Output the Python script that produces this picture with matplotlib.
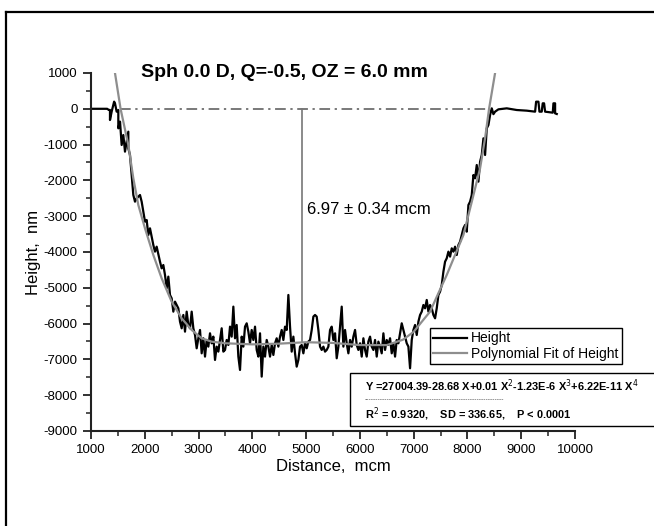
import matplotlib
matplotlib.use("Agg")
import matplotlib.pyplot as plt
from matplotlib.lines import Line2D
from matplotlib.patches import Rectangle

plt.rcParams['font.family'] = ['Liberation Sans', 'DejaVu Sans']
plt.rcParams['axes.unicode_minus'] = False

# measured profile: distance (mcm) vs height (nm)
dist = [1000, 1150, 1300, 1330, 1353, 1353, 1384, 1415, 1430, 1446, 1477, 1508, 1508, 1540,
        1570, 1601, 1632, 1663, 1694, 1694, 1725, 1756, 1787, 1818, 1849, 1911, 1942, 2004,
        2035, 2066, 2097, 2159, 2190, 2221, 2283, 2314, 2345, 2376, 2407, 2438, 2469, 2500,
        2531, 2562, 2624, 2655, 2686, 2717, 2748, 2779, 2810, 2841, 2872, 2903, 2934, 2965,
        2996,
        3027, 3058, 3089, 3120, 3151, 3182, 3213, 3244, 3275, 3306, 3337, 3368, 3399, 3430,
        3461, 3492, 3523, 3554, 3585, 3616, 3647, 3678, 3709, 3740, 3771, 3802, 3833, 3864,
        3895, 3926, 3957, 3988, 4019, 4050, 4081, 4112, 4143, 4174, 4205, 4236, 4267, 4298,
        4329, 4360, 4391, 4422, 4453, 4484, 4515, 4546, 4577, 4608, 4639, 4670, 4701, 4732,
        4763, 4794, 4825, 4856, 4887, 4918, 4949, 4980, 5011, 5042, 5073, 5104, 5135, 5166,
        5197, 5228, 5259, 5290, 5321, 5352, 5383, 5414, 5445, 5476, 5507, 5538, 5569, 5600,
        5631, 5662, 5693, 5724, 5755, 5786, 5817, 5848, 5879, 5910, 5941, 5972, 6003, 6034,
        6065, 6096, 6127, 6158, 6189, 6220, 6251, 6282, 6313, 6344, 6375, 6406, 6437, 6468,
        6499, 6530, 6561, 6592, 6623, 6654, 6685, 6716, 6747, 6778, 6809, 6840, 6871, 6902,
        6933, 6964, 6995,
        7026, 7057, 7088, 7119, 7150, 7181, 7212, 7243, 7274, 7305, 7336, 7367, 7398, 7429,
        7460, 7491, 7522, 7553, 7584, 7615, 7646, 7677, 7708, 7739, 7770, 7801, 7832, 7863,
        7894, 7925, 7956, 7987, 8018, 8049, 8080, 8111, 8142, 8173, 8204, 8235, 8266, 8297,
        8328, 8359, 8390, 8421, 8452, 8483, 8514, 8576, 8731, 8917, 9103, 9258, 9277, 9320,
        9339, 9381, 9400, 9425, 9444, 9587, 9599, 9630, 9630, 9661]
height = [0, 0, 0, -30, -33, -313, -80, 106, 200, 153, -80, -33, -545, -359,
          -1011, -732, -1197, -918, -639, -1104, -1290, -1849, -2408, -2594, -2501, -2408, -2594, -3152,
          -3106, -3525, -3338, -3804, -3990, -3851, -4270, -4456, -4363, -4642, -5014, -4688, -5201, -5294,
          -5666, -5387, -5573, -5945, -6131, -5759, -6225, -5666, -6038, -6131, -5666, -6131, -6318, -6690,
          -6411,
          -6178, -6830, -6410, -6922, -6457, -6643, -6271, -6550, -6364, -7015, -6643, -6783, -6457, -6131,
          -6783, -6736, -6457, -6597, -6085, -6364, -5526, -6410, -6038, -6922, -7295, -6364, -6643, -6085,
          -5992, -6224, -6550, -6178, -6457, -6085, -6736, -6922, -6271, -7481, -6643, -6922, -6457, -6643,
          -6922, -6597, -6876, -6550, -6410, -6643, -6364, -6178, -6457, -6085, -6178, -5200, -6085, -6783,
          -6364, -6830, -7202, -7015, -6643, -6597, -6830, -6550, -6690, -6503, -6457, -6178, -5805, -5759,
          -5805, -6178, -6643, -6736, -6643, -6783, -6736, -6643, -6178, -6085, -6457, -6271, -6969, -6643,
          -6085, -5526, -6643, -6178, -6550, -6830, -6457, -6643, -6364, -6178, -6597, -6736, -6550, -6922,
          -6410, -6736, -6922, -6503, -6364, -6643, -6736, -6457, -6922, -6503, -6643, -6830, -6271, -6736,
          -6457, -6597, -6410, -6830, -6550, -6922, -6457, -6550, -6271, -5992, -6178, -6364, -6550, -6643,
          -7248, -6457, -6178,
          -6038, -6318, -5945, -5759, -5666, -5480, -5573, -5340, -5666, -5480, -5573, -5759, -5852, -5573,
          -5200, -5107, -4921, -4549, -4270, -4176, -3990, -4130, -3897, -3990, -3851, -4083, -3804, -3711,
          -3525, -3339, -3245, -3432, -2687, -2594, -2408, -1849, -1942, -1570, -2035, -1477, -1290, -825,
          -1290, -546, -452, -173, 13, -150, -80, -15, 13, -34, -52, -80, 199, 199,
          -80, -80, 153, 153, -80, -108, 153, 153, -127, -145]

# polynomial fit curve
fit_dist = [1446, 1550, 1694, 1787, 1880, 2004, 2159, 2314, 2500, 2686, 2872, 3058, 3244, 3500,
            4000, 4500, 5000, 5500, 6000, 6500, 6800, 7000, 7150, 7305, 7460, 7615, 7770, 7925,
            8080, 8235, 8330, 8402, 8514]
fit_height = [1000, 0, -1011, -1942, -2687, -3339, -4083, -4735, -5387, -5852, -6178, -6411, -6504, -6550,
              -6580, -6560, -6520, -6540, -6600, -6600, -6450, -6230, -5950, -5666, -5150, -4642, -4080, -3525,
              -2600, -1663, -800, 0, 1000]

zero_start, zero_end = 1540, 8400
depth_x = 4923
depth_bottom = -6520
depth_label = "6.97 \u00b1 0.34 mcm"

title = "Sph 0.0 D, Q=-0.5, OZ = 6.0 mm"
eq_line = "Y =27004.39-28.68 X+0.01 X$^{2}$-1.23E-6 X$^{3}$+6.22E-11 X$^{4}$"
stat_line = "R$^{2}$ = 0.9320,    SD = 336.65,    P < 0.0001"

fig = plt.figure(figsize=(6.54, 5.26), dpi=100)
ax = fig.add_axes([91/654, 1-431/526, 484/654, 358/526])

ax.plot([zero_start, zero_end], [0, 0], color='#555555', lw=1.1, ls=(0, (7, 3, 1.5, 3)))
ax.plot([depth_x, depth_x], [0, depth_bottom], color='#777777', lw=1.2)
ax.plot(dist, height, color='black', lw=1.6, label='Height')
ax.plot(fit_dist, fit_height, color='#8e8e8e', lw=1.6, label='Polynomial Fit of Height')

ax.set_xlim(1000, 10000)
ax.set_ylim(-9000, 1000)
ax.set_xticks(range(1000, 10001, 1000))
ax.set_xticks(range(1500, 10000, 1000), minor=True)
ax.set_yticks(range(-9000, 1001, 1000))
ax.set_yticks(range(-8500, 1000, 1000), minor=True)
for s in ['top', 'right']:
    ax.spines[s].set_visible(False)
for s in ['left', 'bottom']:
    ax.spines[s].set_linewidth(1.5)
    ax.spines[s].set_color('#222222')
ax.tick_params(which='major', length=6, width=1.3, labelsize=9.5, color='#222222')
ax.tick_params(which='minor', length=3.5, width=1.1, color='#222222')
ax.set_xlabel("Distance,  mcm", fontsize=12, labelpad=2)
ax.set_ylabel("Height,  nm", fontsize=12, labelpad=2)

ax.text(4600, 1000, title, fontsize=14, fontweight='bold', ha='center', va='center')
ax.text(depth_x + 100, -2820, depth_label, fontsize=12, ha='left', va='center')

leg = fig.legend(loc='upper left', bbox_to_anchor=(430/654, 1-328/526), fontsize=10,
                 frameon=True, fancybox=False, edgecolor='black', framealpha=1,
                 handlelength=2.4, borderpad=0.25, labelspacing=0.1, handletextpad=0.3,
                 borderaxespad=0)
leg.get_frame().set_linewidth(1.0)

# equation box
fig.patches.append(Rectangle((350/654, 1-426/526), 320/654, 53/526, transform=fig.transFigure,
                             facecolor='white', edgecolor='black', lw=1.0))
fig.text(365/654, 1-386/526, eq_line, fontsize=7.9, fontweight='bold', va='center')
fig.text(365/654, 1-400/526, "-" * 62, fontsize=4.8, color='#555555', va='center')
fig.text(365/654, 1-414/526, stat_line, fontsize=7.9, fontweight='bold', va='center')

# outer frame
fig.add_artist(Line2D([6/654, 6/654], [0, 1-12/526], transform=fig.transFigure, color='black', lw=1.6))
fig.add_artist(Line2D([6/654, 1], [1-12/526, 1-12/526], transform=fig.transFigure, color='black', lw=1.6))

fig.savefig("out.png", dpi=100)
